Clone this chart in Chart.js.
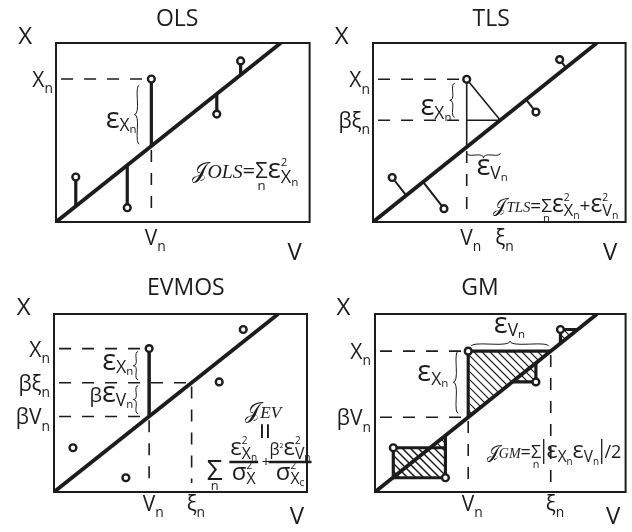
<!DOCTYPE html>
<html>
<head>
<meta charset="utf-8">
<script src="https://cdn.jsdelivr.net/npm/chart.js@4"></script>
<style>
  html, body { margin: 0; padding: 0; background: #fff; }
  #wrap { position: relative; width: 632px; height: 532px; }
  canvas { position: absolute; }
</style>
</head>
<body>
<div id="wrap">
  <canvas id="ols" width="316" height="266" style="left:0;top:0"></canvas>
  <canvas id="tls" width="316" height="266" style="left:316px;top:0"></canvas>
  <canvas id="ev" width="316" height="266" style="left:0;top:266px"></canvas>
  <canvas id="gm" width="316" height="266" style="left:316px;top:266px"></canvas>
</div>
<script>
// Slope of the fitted line X = beta * V (same in all panels)
const beta = 0.79;
// Axis ranges (V horizontal, X vertical)
const vRange = [0, 100];
const xRange = [0, 70];

// Observations (V, X) per panel
const olsV = [7.8, 28.1, 37.6, 63.4, 72.8];
const olsX = [17.6, 5.6, 55.9, 42.2, 63.0];
const tlsV = [7.6, 28.1, 37.1, 64.5, 73.9];
const tlsX = [17.4, 5.2, 55.8, 43.0, 63.5];
const evV  = [7.5, 28.4, 37.6, 65.3, 74.8];
const evX  = [17.4, 5.6, 56.4, 43.3, 63.9];
const gmV  = [7.3, 28.1, 37.2, 64.2, 74.0];
const gmX  = [17.4, 5.6, 55.4, 43.3, 63.9];
// index of the annotated observation n
const nIdx = 2;
// true abscissa xi_n of the annotated observation
const tlsXi = 50.4;
const evXi  = 54.4;

// Panel titles and axis letters
const titles = ['OLS', 'TLS', 'EVMOS', 'GM'];
const axisV = 'V', axisX = 'X';

const INK = '#1c1c1c';
const SANS = "'Open Sans', 'DejaVu Sans', sans-serif";
const SERIF = "'Liberation Serif', 'DejaVu Serif', serif";

/* ---------- tiny math-text renderer: _ ^ {} \i{} \l{} \f{}{} ---------- */
function parse(s) {
  let i = 0;
  function atom() {
    const c = s[i];
    if (c === '{') { i++; const g = seq(); i++; return { grp: g }; }
    if (c === '\\') {
      i++; const cmd = s[i++];
      if (cmd === 'f') { i++; const a = seq(); i++; i++; const b = seq(); i++; return { frac: [a, b] }; }
      i++; const g = seq(); i++; return { grp: g, mode: cmd };
    }
    const ch = String.fromCodePoint(s.codePointAt(i)); i += ch.length; return { t: ch };
  }
  function seq() {
    const out = [];
    while (i < s.length && s[i] !== '}') {
      const c = s[i];
      if (c === '_' || c === '^') {
        i++; const a = atom(); const g = (a.grp && !a.mode) ? a.grp : [a];
        out[out.length - 1][c === '_' ? 'sub' : 'sup'] = g; continue;
      }
      out.push(atom());
    }
    return out;
  }
  return seq();
}
function fontOf(size, it) { return it ? `italic ${size}px ${SERIF}` : `${size}px ${SANS}`; }
function run(ctx, nodes, x, y, size, st, depth, it, draw) {
  const x0 = x;
  for (const nd of nodes) {
    let w, sz = size;
    if (nd.frac) {
      const [a, b] = nd.frac;
      const wa = run(ctx, a, 0, 0, size, st, depth, it, false);
      const wb = run(ctx, b, 0, 0, size, st, depth, it, false);
      w = Math.max(wa, wb) + st.fracPad * 2;
      if (draw) {
        run(ctx, a, x + (w - wa) / 2, y - st.numUp, size, st, depth, it, true);
        run(ctx, b, x + (w - wb) / 2, y + st.denDown, size, st, depth, it, true);
        ctx.fillRect(x, y - st.barW / 2, w, st.barW);
      }
    } else if (nd.grp) {
      let s2 = size, it2 = it;
      if (nd.mode === 'i') it2 = true;
      if (nd.mode === 'l') { it2 = true; s2 = size * st.lowR; }
      w = run(ctx, nd.grp, x, y, s2, st, depth, it2, draw);
    } else {
      sz = size * ((st.scale && st.scale[nd.t]) || 1);
      const fam = st.fam && st.fam[nd.t];
      ctx.font = fam ? `${sz}px ${fam}` : fontOf(sz, it);
      w = ctx.measureText(nd.t).width;
      if (draw) ctx.fillText(nd.t, x, y);
    }
    let ext = 0;
    const r = st.subR[Math.min(depth, st.subR.length - 1)];
    if (nd.sub && nd.t === 'Σ') {
      const ls = sz * st.limR;
      const lw = run(ctx, nd.sub, 0, 0, ls, st, depth + 1, it, false);
      if (draw) run(ctx, nd.sub, x + (w - lw) / 2, y + sz * st.limDrop, ls, st, depth + 1, it, true);
    } else {
      if (nd.sub) ext = Math.max(ext, run(ctx, nd.sub, x + w, y + sz * st.subDrop, sz * r, st, depth + 1, it, draw));
      if (nd.sup) ext = Math.max(ext, run(ctx, nd.sup, x + w, y - sz * st.supRise, sz * st.supR, st, depth + 1, it, draw));
    }
    x += w + ext;
  }
  return x - x0;
}

const BASE = { subR: [0.66, 0.66], subDrop: 0.3, supR: 0.5, supRise: 0.45, scale: {}, lowR: 0.78,
               limR: 0.6, limDrop: 0.55, numUp: 7, denDown: 18, barW: 2.5, fracPad: 1 };
const MATH = Object.assign({}, BASE, { subR: [0.66, 0.64], subDrop: 0.16, supR: 0.42, supRise: 0.45,
               scale: { 'ε': 1.3, 'σ': 1.3, '|': 1.5 }, fam: { '|': SERIF } });
const OLSF = Object.assign({}, MATH, { lowR: 0.9, scale: { 'ε': 1.25 } });
const FRAC = Object.assign({}, MATH, { scale: { 'ε': 1.5, 'σ': 1.5 } });
const LBL = Object.assign({}, BASE, { subR: [0.6, 0.66], subDrop: 0.12, scale: { 'ε': 1.45 } });
const SIG = Object.assign({}, MATH, { limR: 0.46, limDrop: 0.36 });

/* ---------- drawing helpers ---------- */
function brace(ctx, x1, y1, x2, y2, w, q) {
  let dx = x1 - x2, dy = y1 - y2; const len = Math.hypot(dx, dy); dx /= len; dy /= len;
  const qx1 = x1 + q * w * dy, qy1 = y1 - q * w * dx;
  const qx2 = (x1 - .25 * len * dx) + (1 - q) * w * dy, qy2 = (y1 - .25 * len * dy) - (1 - q) * w * dx;
  const tx = (x1 - .5 * len * dx) + w * dy, ty = (y1 - .5 * len * dy) - w * dx;
  const qx3 = x2 + q * w * dy, qy3 = y2 - q * w * dx;
  const qx4 = (x1 - .75 * len * dx) + (1 - q) * w * dy, qy4 = (y1 - .75 * len * dy) - (1 - q) * w * dx;
  ctx.beginPath();
  ctx.moveTo(x1, y1); ctx.quadraticCurveTo(qx1, qy1, qx2, qy2); ctx.quadraticCurveTo(2 * qx2 - qx1, 2 * qy2 - qy1, tx, ty);
  ctx.moveTo(x2, y2); ctx.quadraticCurveTo(qx3, qy3, qx4, qy4); ctx.quadraticCurveTo(2 * qx4 - qx3, 2 * qy4 - qy3, tx, ty);
  ctx.stroke();
}

function panelPlugin(extra) {
  return {
    id: 'panel',
    beforeDatasetsDraw(chart) {
      const { ctx, scales: { x: sx, y: sy } } = chart;
      const P = ([v, x]) => [sx.getPixelForValue(v), sy.getPixelForValue(x)];
      (extra.hatch || []).forEach(poly => {
        ctx.save();
        ctx.beginPath();
        poly.map(P).forEach(([px, py], i) => i ? ctx.lineTo(px, py) : ctx.moveTo(px, py));
        ctx.closePath(); ctx.clip();
        ctx.strokeStyle = INK; ctx.lineWidth = 1.2; ctx.beginPath();
        for (let c = -400; c < 400; c += 8) { ctx.moveTo(0, c); ctx.lineTo(400, c + 400); }
        ctx.stroke(); ctx.restore();
      });
    },
    afterDatasetsDraw(chart) {
      const { ctx, chartArea: a, scales: { x: sx, y: sy } } = chart;
      ctx.save();
      ctx.strokeStyle = INK; ctx.lineWidth = 2;
      ctx.strokeRect(a.left, a.top, a.right - a.left, a.bottom - a.top);
      ctx.lineWidth = 1;
      (extra.braces || []).forEach(b => {
        const x1 = sx.getPixelForValue(b.a[0]) + b.da[0], y1 = sy.getPixelForValue(b.a[1]) + b.da[1];
        const x2 = sx.getPixelForValue(b.b[0]) + b.db[0], y2 = sy.getPixelForValue(b.b[1]) + b.db[1];
        brace(ctx, x1, y1, x2, y2, b.w || 5, 0.6);
      });
      ctx.fillStyle = INK; ctx.textAlign = 'left';
      (extra.labels || []).forEach(L => {
        const st = L.st || BASE;
        const nodes = parse(L.s);
        const w = run(ctx, nodes, 0, 0, L.size, st, 0, false, false);
        let px = sx.getPixelForValue(L.x) + (L.dx || 0), py = sy.getPixelForValue(L.y) + (L.dy || 0);
        ctx.save();
        ctx.textBaseline = L.mid ? 'middle' : 'alphabetic';
        if (L.rot) { ctx.translate(px, py); ctx.rotate(L.rot); px = 0; py = 0; }
        const ox = L.align === 'right' ? -w : L.align === 'center' ? -w / 2 : 0;
        run(ctx, nodes, px + ox, py, L.size, st, 0, false, true);
        ctx.restore();
      });
      ctx.restore();
    }
  };
}

const toXY = pl => pl.map(([x, y]) => ({ x, y }));
function lines(list, w, dash) {
  return list.map(pl => ({ data: toXY(pl), showLine: true, borderColor: INK, borderWidth: w,
    borderDash: dash || [], pointRadius: 0, pointHoverRadius: 0, fill: false, tension: 0, borderCapStyle: 'butt' }));
}
function circles(vs, xs) {
  return { data: vs.map((v, i) => ({ x: v, y: xs[i] })), showLine: false, pointRadius: 3.4,
    pointBorderWidth: 2.4, pointBackgroundColor: '#fff', pointBorderColor: INK, clip: false };
}
const fitLine = () => lines([[[0, 0], [xRange[1] / beta, xRange[1]]]], 3.8)[0];
const DASH = [12, 11];

function makePanel(id, pad, datasets, extra) {
  return new Chart(document.getElementById(id), {
    type: 'scatter',
    data: { datasets },
    options: {
      responsive: false, animation: false, devicePixelRatio: 1, events: [],
      layout: { padding: pad },
      plugins: { legend: { display: false }, tooltip: { enabled: false } },
      scales: {
        x: { type: 'linear', min: vRange[0], max: vRange[1], display: false },
        y: { type: 'linear', min: xRange[0], max: xRange[1], display: false }
      }
    },
    plugins: [panelPlugin(extra)]
  });
}
const onLine = v => beta * v;
const foot = (v, x) => { const t = (v + beta * x) / (1 + beta * beta); return [t, beta * t]; };

/* ---------- OLS ---------- */
{
  const Vn = olsV[nIdx], Xn = olsX[nIdx];
  makePanel('ols', { left: 56, top: 43, right: 5, bottom: 44 }, [
    circles(olsV, olsX),
    fitLine(),
    ...lines(olsV.map((v, i) => [[v, olsX[i]], [v, onLine(v)]]), 3.2),
    ...lines([[[2, Xn], [Vn, Xn]], [[Vn, onLine(Vn) - 1.5], [Vn, 4.4]]], 1.6, DASH)
  ], {
    braces: [{ a: [Vn, Xn], da: [-12, 6], b: [Vn, onLine(Vn)], db: [-12, -2], w: 5 }],
    labels: [
      { x: 47.8, y: 76.7, s: titles[0], size: 23, align: 'center' },
      { x: -12.2, y: 69.6, s: axisX, size: 24, align: 'center' },
      { x: 94.1, y: -14.9, s: axisV, size: 24, align: 'center' },
      { x: 0, y: Xn, dx: -3, dy: 8, s: 'X_n', size: 21, align: 'right' },
      { x: Vn, y: 0, dx: -6.5, dy: 23, s: 'V_n', size: 21 },
      { x: Vn, y: (Xn + onLine(Vn)) / 2, dx: -14.7, dy: 15, s: 'ε_{X_n}', size: 20, align: 'right', st: LBL },
      { x: 53.8, y: 17.1, s: '𝒥\\l{OLS}=Σ_nε^2_{X_n}', size: 22, st: OLSF }
    ]
  });
}

/* ---------- TLS ---------- */
{
  const Vn = tlsV[nIdx], Xn = tlsX[nIdx], xi = tlsXi, bxi = onLine(tlsXi);
  const others = tlsV.map((v, i) => i).filter(i => i !== nIdx);
  makePanel('tls', { left: 57, top: 43, right: 4, bottom: 44 }, [
    circles(tlsV, tlsX),
    fitLine(),
    ...lines(others.map(i => [[tlsV[i], tlsX[i]], foot(tlsV[i], tlsX[i])]), 2),
    ...lines([[[Vn, Xn], [Vn, onLine(Vn)]], [[Vn, bxi], [xi, bxi]], [[Vn, Xn], [xi, bxi]]], 1.6),
    ...lines([[[2, Xn], [Vn, Xn]], [[2, bxi], [Vn, bxi]], [[Vn, onLine(Vn) - 1.5], [Vn, 3.9]]], 1.6, DASH)
  ], {
    braces: [
      { a: [Vn, Xn], da: [-12, 4], b: [Vn, bxi], db: [-12, -3], w: 5 },
      { a: [Vn, onLine(Vn)], da: [0, 6], b: [xi, onLine(Vn)], db: [0, 6], w: 5 }
    ],
    labels: [
      { x: 46.8, y: 76.5, s: titles[1], size: 23, align: 'center' },
      { x: -12.4, y: 69.5, s: axisX, size: 24, align: 'center' },
      { x: 93.9, y: -15, s: axisV, size: 24, align: 'center' },
      { x: 0, y: Xn, dx: -3, dy: 8, s: 'X_n', size: 21, align: 'right' },
      { x: 0, y: bxi, dx: -3, dy: 8, s: 'βξ_n', size: 21, align: 'right' },
      { x: Vn, y: 0, dx: -6.5, dy: 23, s: 'V_n', size: 21 },
      { x: xi, y: 0, dx: -5, dy: 23, s: 'ξ_n', size: 21 },
      { x: Vn, y: (Xn + bxi) / 2, dx: -15.3, dy: 15.5, s: 'ε_{X_n}', size: 20, align: 'right', st: LBL },
      { x: Vn, y: 0, dx: 9.7, dy: -46.7, s: 'ε_{V_n}', size: 20, st: LBL },
      { x: 47.7, y: 3.9, s: '𝒥\\l{TLS}=Σ_nε^2_{X_n}+ε^2_{V_n}', size: 19, st: MATH }
    ]
  });
}

/* ---------- EVMOS ---------- */
{
  const Vn = evV[nIdx], Xn = evX[nIdx], xi = evXi, bxi = onLine(evXi), bVn = onLine(Vn);
  makePanel('ev', { left: 54, top: 48, right: 9, bottom: 40 }, [
    circles(evV, evX),
    fitLine(),
    ...lines([[[Vn, Xn], [Vn, bVn]]], 3.5),
    ...lines([[[2, Xn], [Vn, Xn]], [[2, bxi], [xi, bxi]], [[2, bVn], [Vn, bVn]],
              [[Vn, bVn - 1.5], [Vn, 3.5]], [[xi, bxi - 1.5], [xi, 3.5]]], 1.6, DASH)
  ], {
    braces: [
      { a: [Vn, Xn], da: [-11, 3], b: [Vn, bxi], db: [-11, -3], w: 5 },
      { a: [Vn, bxi], da: [-11, 3], b: [Vn, bVn], db: [-11, -3], w: 5 }
    ],
    labels: [
      { x: 52.1, y: 77.6, s: titles[2], size: 23, align: 'center' },
      { x: -12, y: 69.8, s: axisX, size: 24, align: 'center' },
      { x: 96, y: -12.6, s: axisV, size: 24, align: 'center' },
      { x: 0, y: Xn, dx: -4, dy: 8, s: 'X_n', size: 21, align: 'right' },
      { x: 0, y: bxi, dx: -4, dy: 8, s: 'βξ_n', size: 21, align: 'right' },
      { x: 0, y: bVn, dx: -4, dy: 8, s: 'βV_n', size: 21, align: 'right' },
      { x: Vn, y: 0, dx: -6.5, dy: 19, s: 'V_n', size: 21 },
      { x: xi, y: 0, dx: -5, dy: 19, s: 'ξ_n', size: 21 },
      { x: Vn, y: (Xn + bxi) / 2, dx: -15.9, dy: 4, s: 'ε_{X_n}', size: 20, align: 'right', st: LBL },
      { x: Vn, y: (bxi + bVn) / 2, dx: -15.9, dy: 2.5, s: 'βε_{V_n}', size: 20, align: 'right', st: LBL },
      { x: 75.6, y: 29.1, s: '𝒥\\l{EV}', size: 22, st: MATH },
      { x: 82.9, y: 24.0, s: '=', size: 30, rot: Math.PI / 2, align: 'center', mid: true },
      { x: 60.4, y: 4.7, s: 'Σ_n', size: 28, st: SIG },
      { x: 69.3, y: 11.8, s: '\\f{ε^2_{X_n}}{σ^2_X}', size: 16, st: FRAC },
      { x: 83.8, y: 9.7, s: '+', size: 15, align: 'center' },
      { x: 84.8, y: 11.8, s: '\\f{β^2ε^2_{V_n}}{σ^2_{X_c}}', size: 16, st: FRAC }
    ]
  });
}

/* ---------- GM ---------- */
{
  const Vn = gmV[nIdx], Xn = gmX[nIdx], xi = Xn / beta, bVn = onLine(Vn);
  const tri = i => [[gmV[i], gmX[i]], [gmX[i] / beta, gmX[i]], [gmV[i], onLine(gmV[i])]];
  const A = [gmV[0], gmX[0]], B = [gmV[1], gmX[1]];
  const rect = [A, [B[0], A[1]], B, [A[0], B[1]]];
  makePanel('gm', { left: 59, top: 48, right: 3, bottom: 40 }, [
    circles(gmV, gmX),
    fitLine(),
    ...lines([2, 3, 4].map(i => { const t = tri(i); return [t[1], t[0], t[2]]; }), 3.2),
    ...lines([[...rect, A], [[B[0], A[1]], [B[0], onLine(B[0])]]], 3.2),
    ...lines([[[2, Xn], [Vn, Xn]], [[2, bVn], [Vn, bVn]], [[Vn, bVn - 1.5], [Vn, 3.5]], [[xi, Xn - 1.5], [xi, 3.5]]], 1.6, DASH)
  ], {
    hatch: [rect, tri(0), tri(1), tri(2), tri(3), tri(4)],
    braces: [
      { a: [Vn, Xn], da: [-10, 0], b: [Vn, bVn], db: [-10, -4], w: 5 },
      { a: [xi, Xn], da: [-2, -5], b: [Vn, Xn], db: [3, -5], w: 5 }
    ],
    labels: [
      { x: 41.9, y: 77.6, s: titles[3], size: 23, align: 'center' },
      { x: -12.6, y: 69.8, s: axisX, size: 24, align: 'center' },
      { x: 95, y: -12.6, s: axisV, size: 24, align: 'center' },
      { x: 0, y: Xn, dx: -4, dy: 8, s: 'X_n', size: 21, align: 'right' },
      { x: 0, y: bVn, dx: -4, dy: 8, s: 'βV_n', size: 21, align: 'right' },
      { x: Vn, y: 0, dx: -6.5, dy: 19, s: 'V_n', size: 21 },
      { x: xi, y: 0, dx: -5, dy: 19, s: 'ξ_n', size: 21 },
      { x: Vn, y: (Xn + bVn) / 2, dx: -20, dy: -3, s: 'ε_{X_n}', size: 20, align: 'right', st: LBL },
      { x: (Vn + xi) / 2, y: Xn, dy: -18.2, s: 'ε_{V_n}', size: 20, align: 'center', st: LBL },
      { x: 44.6, y: 13.2, s: '𝒥\\l{GM}=Σ_n|ε_{X_n}ε_{V_n}|/2', size: 18, st: MATH }
    ]
  });
}
</script>
</body>
</html>
